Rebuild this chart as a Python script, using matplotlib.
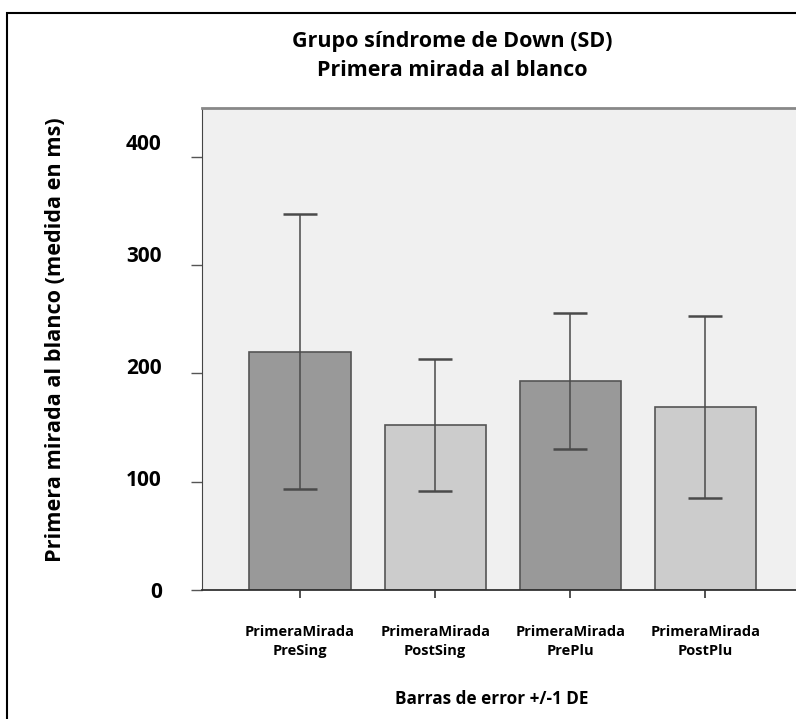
import matplotlib
matplotlib.use("Agg")
import matplotlib.pyplot as plt
import matplotlib.transforms as mtransforms
from matplotlib.patches import Rectangle
import numpy as np

# Datos (media y DE en ms)
categorias = ["PrimeraMirada\nPreSing", "PrimeraMirada\nPostSing",
              "PrimeraMirada\nPrePlu", "PrimeraMirada\nPostPlu"]
medias = [220, 152, 193, 169]
desv = [127, 61, 63, 84]
colores = ["#999999", "#cccccc", "#999999", "#cccccc"]
yticks = [0, 100, 200, 300, 400]

plt.rcParams["font.family"] = ["Open Sans", "DejaVu Sans"]
plt.rcParams["font.weight"] = "bold"

W, H = 796, 719
fig = plt.figure(figsize=(W / 100, H / 100), dpi=100)

# marco exterior
fig.patches.append(Rectangle((7 / W, -0.1), 1.2, 1.1 - 13 / H, transform=fig.transFigure,
                             fill=False, edgecolor="black", linewidth=1.5))

ax = fig.add_axes([202 / W, 1 - 590 / H, 1 - 202 / W, (590 - 108) / H])
ax.set_facecolor("#f0f0f0")

x = np.arange(len(categorias))
ax.bar(x, medias, width=0.75, color=colores, edgecolor="#555555", linewidth=1.2, zorder=2)
ax.errorbar(x, medias, yerr=desv, fmt="none", ecolor="#4a4a4a", elinewidth=1.1,
            capsize=12, capthick=1.8, zorder=3)

ax.set_xlim(-0.726, 3.67)
ax.set_ylim(0, 445)

ax.spines["right"].set_visible(False)
ax.spines["top"].set_color("#888888")
ax.spines["top"].set_linewidth(2)
ax.spines["left"].set_color("#444444")
ax.spines["bottom"].set_color("#333333")
ax.spines["bottom"].set_linewidth(1.3)

ax.set_yticks(yticks)
ax.set_yticklabels([str(v) for v in yticks], fontsize=15, fontweight="bold")
ax.tick_params(axis="y", length=8, width=1, color="#555555", pad=21)
# las etiquetas del eje y aparecen algo desplazadas hacia arriba
for lab, v in zip(ax.get_yticklabels(), yticks):
    off = mtransforms.ScaledTranslation(0, v / 400 * 15 / 100, fig.dpi_scale_trans)
    lab.set_transform(lab.get_transform() + off)

ax.set_xticks(x)
ax.set_xticklabels(categorias, fontsize=10.5, fontweight="bold", linespacing=1.45)
ax.tick_params(axis="x", length=6, width=1.2, color="#333333", pad=19)

ax.set_xlabel("Barras de error +/-1 DE", fontsize=12.3, fontweight="bold")
ax.xaxis.set_label_coords((492 - 202) / (W - 202), -(699 - 590) / (590 - 108))
ax.xaxis.label.set_va("center")
ax.set_ylabel("Primera mirada al blanco (medida en ms)", fontsize=15.6, fontweight="bold")
ax.yaxis.set_label_coords(-(202 - 56) / (W - 202), (590 - 340) / (590 - 108))
ax.yaxis.label.set_va("center")

fig.text(452 / W, 1 - 56 / H, "Grupo síndrome de Down (SD)\nPrimera mirada al blanco",
         ha="center", va="center", fontsize=15.5, fontweight="bold", linespacing=1.55)

fig.savefig("out.png", dpi=100)
